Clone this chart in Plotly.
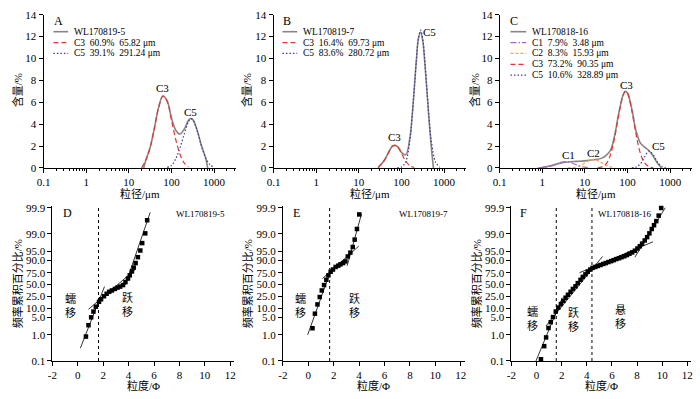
import numpy as np
import plotly.graph_objects as go

# ---------------- data: grain-size distributions (x in µm, y in %) ----------------
A_TOTAL_X = [22.4, 25.1, 31.6, 39.8, 50.1, 63.1, 79.4, 100, 125.9, 158.5, 199.5, 251.2, 281.8, 316.2, 398.1, 501.2, 631.0, 707.9]
A_TOTAL_Y = [0.0, 0.72, 1.87, 3.64, 5.55, 6.57, 6.12, 4.59, 3.45, 3.10, 3.55, 4.35, 4.52, 4.42, 3.48, 2.08, 0.94, 0.0]
A_C3_X = [19.95, 25.1, 31.6, 39.8, 50.1, 63.1, 79.4, 100, 125.9, 158.5, 199.5, 251.2]
A_C3_Y = [0.0, 0.72, 1.87, 3.64, 5.55, 6.57, 6.07, 4.36, 2.6, 1.25, 0.45, 0.1]
A_C5_X = [79.4, 100, 125.9, 158.5, 199.5, 251.2, 281.8, 316.2, 398.1, 501.2, 631.0, 794.3, 1000]
A_C5_Y = [0.05, 0.23, 0.85, 1.85, 3.10, 4.25, 4.5, 4.42, 3.48, 2.08, 0.94, 0.32, 0.08]

B_TOTAL_X = [28.2, 31.6, 39.8, 50.1, 63.1, 79.4, 100, 125.9, 158.5, 177.8, 199.5, 223.9, 251.2, 281.8, 316.2, 354.8, 398.1, 446.7, 501.2, 562.3]
B_TOTAL_Y = [0.0, 0.22, 0.71, 1.44, 2.03, 1.99, 1.42, 1.20, 2.83, 4.74, 7.25, 9.88, 11.88, 12.4, 11.6, 9.5, 6.9, 4.2, 1.9, 0.0]
B_C3_X = [28.2, 31.6, 39.8, 50.1, 63.1, 79.4, 100, 125.9, 158.5, 199.5]
B_C3_Y = [0.08, 0.24, 0.71, 1.44, 2.03, 1.98, 1.34, 0.63, 0.20, 0.05]
B_C5_X = [79.4, 100, 125.9, 158.5, 177.8, 199.5, 223.9, 251.2, 281.8, 316.2, 354.8, 398.1, 446.7, 501.2, 631.0, 794.3]
B_C5_Y = [0.01, 0.08, 0.57, 2.63, 4.63, 7.2, 9.86, 11.88, 12.6, 11.76, 9.66, 6.98, 4.45, 2.49, 0.53, 0.07]

C_TOTAL_X = [0.89, 1.0, 1.58, 2.51, 3.98, 6.31, 10.0, 15.85, 25.1, 31.6, 39.8, 50.1, 63.1, 79.4, 89.1, 100, 125.9, 158.5, 199.5, 251.2, 316.2, 398.1, 501.2, 631.0]
C_TOTAL_Y = [0.0, 0.05, 0.2, 0.42, 0.55, 0.6, 0.65, 0.75, 0.9, 1.15, 1.6, 3.0, 5.1, 6.7, 7.0, 6.85, 5.4, 3.4, 2.3, 1.9, 1.6, 1.1, 0.45, 0.0]
C_C1_X = [0.79, 1.0, 1.26, 1.58, 2.0, 2.51, 3.16, 3.98, 5.01, 6.31, 7.94, 10.0, 12.6]
C_C1_Y = [0.01, 0.03, 0.08, 0.17, 0.32, 0.47, 0.57, 0.56, 0.45, 0.29, 0.15, 0.07, 0.02]
C_C2_X = [3.98, 5.01, 6.31, 7.94, 10.0, 12.6, 15.85, 19.95, 25.1, 31.6, 39.8, 50.1]
C_C2_Y = [0.01, 0.03, 0.10, 0.24, 0.45, 0.66, 0.75, 0.67, 0.46, 0.25, 0.10, 0.03]
C_C3_X = [19.95, 25.1, 31.6, 39.8, 50.1, 63.1, 79.4, 89.1, 100, 125.9, 158.5, 199.5, 251.2, 316.2, 398.1]
C_C3_Y = [0.02, 0.10, 0.39, 1.21, 2.82, 5.0, 6.70, 7.0, 6.82, 5.25, 3.07, 1.36, 0.46, 0.12, 0.02]
C_C5_X = [125.9, 158.5, 199.5, 251.2, 316.2, 398.1, 501.2, 631.0, 794.3]
C_C5_Y = [0.01, 0.08, 0.37, 1.0, 1.55, 1.22, 0.56, 0.14, 0.02]

A_LEGEND = ["WL170819-5", "C3  60.9%  65.82 μm", "C5  39.1%  291.24 μm"]
B_LEGEND = ["WL170819-7", "C3  16.4%  69.73 μm", "C5  83.6%  280.72 μm"]
C_LEGEND = ["WL170818-16", "C1  7.9%  3.48 μm", "C2  8.3%  15.93 μm", "C3  73.2%  90.35 μm", "C5  10.6%  328.89 μm"]

# ---------------- data: cumulative probability curves (phi, cumulative %) ----------------
D_PHI = [0.64, 0.84, 1.05, 1.23, 1.42, 1.67, 1.83, 2.06, 2.27, 2.47, 2.68, 2.92, 3.13, 3.33, 3.56, 3.75, 3.95, 4.09, 4.26, 4.40, 4.55, 4.73, 4.92, 5.07, 5.31, 5.46]
D_PCT = [0.94, 3.2, 5.0, 8.3, 12.3, 18.1, 21.2, 24.7, 29.8, 34.0, 36.9, 40.2, 43.1, 45.2, 48.5, 54.8, 62.5, 69.4, 76.5, 81.1, 86.5, 91.7, 95.2, 96.9, 99.02, 99.47]
D_FIT_PHI = [[0.2, 2.1], [0.84, 4.53], [3.75, 5.70]]
D_FIT_PCT = [[0.54, 45.2], [9.6, 78.8], [49.4, 99.74]]
D_BOUNDS = [1.63]

E_PHI = [0.33, 0.52, 0.72, 0.90, 1.06, 1.24, 1.42, 1.58, 1.76, 1.94, 2.15, 2.36, 2.53, 2.74, 2.92, 3.11, 3.31, 3.50, 3.65, 3.83, 4.01]
E_PCT = [2.5, 7.1, 15.0, 23.8, 36.9, 48.5, 59.8, 69.4, 76.2, 78.8, 81.9, 83.4, 85.0, 86.5, 88.5, 92.1, 94.3, 96.0, 97.7, 99.17, 99.67]
E_FIT_PHI = [[-0.05, 1.84], [1.11, 3.97], [3.06, 4.19]]
E_FIT_PCT = [[1.0, 80.8], [62.5, 96.2], [83.4, 99.69]]
E_BOUNDS = [1.68]

F_PHI = [0.35, 0.61, 0.76, 0.95, 1.13, 1.31, 1.53, 1.73, 1.94, 2.13, 2.31, 2.50, 2.71, 2.89, 3.10, 3.28, 3.50, 3.68, 3.89, 4.07,
         4.28, 4.46, 4.68, 4.88, 5.09, 5.31, 5.51, 5.72, 5.94, 6.14, 6.35, 6.57, 6.77, 6.98, 7.20, 7.40, 7.61, 7.83, 8.03, 8.22,
         8.40, 8.61, 8.80, 8.98, 9.17, 9.35, 9.53, 9.72, 9.92]
F_PCT = [0.16, 0.61, 0.91, 2.56, 3.89, 5.17, 8.33, 11.2, 15.4, 19.2, 23.0, 27.7, 34.0, 40.2, 45.8, 52.7, 59.8, 66.0, 71.5, 76.2,
         78.8, 80.8, 81.9, 83.1, 84.2, 85.4, 86.5, 87.7, 88.8, 90.0, 90.6, 91.1, 91.7, 92.2, 92.9, 93.7, 94.4, 95.16, 95.67, 96.18,
         96.78, 97.5, 98.27, 99.02, 99.17, 99.3, 99.44, 99.63, 99.89]
F_FIT_PHI = [[-0.05, 2.05], [0.74, 5.25], [3.42, 9.27], [7.83, 10.25]]
F_FIT_PCT = [[0.1, 23.0], [3.0, 92.1], [75.0, 97.2], [91.7, 99.9]]
F_BOUNDS = [1.57, 4.41]

# probability-axis tick labels and their positions on the (non-linear) scale
PCT_TICKS = [0.1, 1.0, 5.0, 10.0, 25.0, 50.0, 75.0, 90.0, 95.0, 99.0, 99.9]
PCT_TICK_TEXT = ["0.1", "1.0", "5.0", "10.0", "25.0", "50.0", "75.0", "90.0", "95.0", "99.0", "99.9"]
PCT_SCALE = [0, 27, 45, 54, 67, 79, 91, 104, 113, 131, 158]

GS_TICKS = [0.1, 1, 10, 100, 1000]
GS_TICK_TEXT = ["0.1", "1", "10", "100", "1000"]
PHI_TICKS = [-2, 0, 2, 4, 6, 8, 10, 12]
PHI_TICK_TEXT = ["-2", "0", "2", "4", "6", "8", "10", "12"]


def to_scale(p):
    return np.interp(p, PCT_TICKS, PCT_SCALE)


W, H = 700, 399
FONT = "Liberation Serif, 'Noto Sans CJK SC', serif"
GRAY = "#8a8585"
RED = "#e8352c"
BLUE = "#3a3aa8"
PURPLE = "#b060c0"
ORANGE = "#f2a35e"


def X(px):
    return px / W


def Y(py):
    return 1 - py / H


fig = go.Figure()

top_dom = [Y(167), Y(9)]
bot_dom = [Y(366), Y(206)]
top_x = {"": (37, 232), "2": (270, 465), "3": (499, 694)}
bot_x = {"4": (46, 230), "5": (279.5, 463.5), "6": (511, 693)}

axis_common = dict(showline=True, linecolor="black", linewidth=1, showgrid=False, zeroline=False,
                   ticks="outside", ticklen=4, tickcolor="black", tickwidth=1,
                   tickfont=dict(family=FONT, size=11, color="black"))

layout = dict(width=W, height=H, margin=dict(l=0, r=0, t=0, b=0), autosize=False,
              plot_bgcolor="white", paper_bgcolor="white", showlegend=False)

for k, (x0, x1) in top_x.items():
    layout["xaxis" + k] = dict(axis_common, type="log", domain=[X(x0), X(x1)], range=[-1, 3.514],
                               tickmode="array", tickvals=GS_TICKS, ticktext=GS_TICK_TEXT,
                               anchor="y" + k,
                               minor=dict(ticks="outside", ticklen=2, tickcolor="black", dtick="D1", showgrid=False))
    layout["yaxis" + k] = dict(axis_common, domain=top_dom, range=[0, 14], tickmode="array",
                               tickvals=[0, 2, 4, 6, 8, 10, 12, 14], anchor="x" + k)
for k, (x0, x1) in bot_x.items():
    layout["xaxis" + k] = dict(axis_common, domain=[X(x0), X(x1)], range=[-2, 12.3], tickmode="array",
                               tickvals=PHI_TICKS, ticktext=PHI_TICK_TEXT, anchor="y" + k)
    layout["yaxis" + k] = dict(axis_common, domain=bot_dom, range=[0, 160], tickmode="array",
                               tickvals=PCT_SCALE, ticktext=PCT_TICK_TEXT, anchor="x" + k)
fig.update_layout(**layout)


def curve(k, xs, ys, color, dash, width):
    fig.add_trace(go.Scatter(x=xs, y=ys, mode="lines", xaxis="x" + k, yaxis="y" + k,
                             line=dict(color=color, dash=dash, width=width, shape="spline", smoothing=1),
                             hoverinfo="skip"))


DASH_RED = "5px,3px"
DASH_BLUE = "1.5px,2px"
DASH_PURPLE = "6px,2px,1.5px,2px"
DASH_ORANGE = "3px,2px"

curve("", A_TOTAL_X, A_TOTAL_Y, GRAY, "solid", 1.6)
curve("", A_C3_X, A_C3_Y, RED, DASH_RED, 1.2)
curve("", A_C5_X, A_C5_Y, BLUE, DASH_BLUE, 1.2)
curve("2", B_TOTAL_X, B_TOTAL_Y, GRAY, "solid", 1.6)
curve("2", B_C3_X, B_C3_Y, RED, DASH_RED, 1.2)
curve("2", B_C5_X, B_C5_Y, BLUE, DASH_BLUE, 1.2)
curve("3", C_TOTAL_X, C_TOTAL_Y, GRAY, "solid", 1.6)
curve("3", C_C1_X, C_C1_Y, PURPLE, DASH_PURPLE, 1.2)
curve("3", C_C2_X, C_C2_Y, ORANGE, DASH_ORANGE, 1.2)
curve("3", C_C3_X, C_C3_Y, RED, DASH_RED, 1.2)
curve("3", C_C5_X, C_C5_Y, BLUE, DASH_BLUE, 1.2)


def prob_panel(k, phi, pct, fit_phi, fit_pct, bounds):
    for b in bounds:
        fig.add_trace(go.Scatter(x=[b, b], y=[0, 160], mode="lines", xaxis="x" + k, yaxis="y" + k,
                                 line=dict(color="black", dash="3px,3px", width=1), hoverinfo="skip"))
    for fx, fp in zip(fit_phi, fit_pct):
        fig.add_trace(go.Scatter(x=fx, y=to_scale(fp), mode="lines", xaxis="x" + k, yaxis="y" + k,
                                 line=dict(color="black", width=0.8), hoverinfo="skip"))
    fig.add_trace(go.Scatter(x=phi, y=to_scale(pct), mode="markers", xaxis="x" + k, yaxis="y" + k,
                             marker=dict(symbol="square", size=4.5, color="black", line=dict(width=0)),
                             cliponaxis=False, hoverinfo="skip"))


prob_panel("4", D_PHI, D_PCT, D_FIT_PHI, D_FIT_PCT, D_BOUNDS)
prob_panel("5", E_PHI, E_PCT, E_FIT_PHI, E_FIT_PCT, E_BOUNDS)
prob_panel("6", F_PHI, F_PCT, F_FIT_PHI, F_FIT_PCT, F_BOUNDS)

ann = []
shapes = []


def text_px(px, py, s, size=11, xanchor="center", angle=0):
    ann.append(dict(x=X(px), y=Y(py), xref="paper", yref="paper", text=s, showarrow=False,
                    xanchor=xanchor, yanchor="middle", textangle=angle,
                    font=dict(family=FONT, size=size, color="black")))


def text_ax(k, x, y, s, size=11):
    ann.append(dict(x=x, y=y, xref="x" + k, yref="y" + k, text=s, showarrow=False,
                    xanchor="center", yanchor="middle",
                    font=dict(family=FONT, size=size, color="black")))


# panel letters
for px, py, s in [(46, 15, "A"), (278, 15, "B"), (508, 15, "C"), (55, 213, "D"), (288, 213, "E"), (518, 213, "F")]:
    text_px(px, py, s, size=12, xanchor="left")

# legends in top panels
styles_A = [(GRAY, "solid", 1.6), (RED, DASH_RED, 1.2), (BLUE, DASH_BLUE, 1.2)]
styles_C = [(GRAY, "solid", 1.6), (PURPLE, DASH_PURPLE, 1.2), (ORANGE, DASH_ORANGE, 1.2), (RED, DASH_RED, 1.2), (BLUE, DASH_BLUE, 1.2)]
for (lx0, lx1, tx), labels, styles in [((47, 62, 66), A_LEGEND, styles_A), ((279, 294, 298), B_LEGEND, styles_A),
                                        ((510, 526, 530), C_LEGEND, styles_C)]:
    for i, (lab, (c, d, w)) in enumerate(zip(labels, styles)):
        py = 26.5 + i * 11.2
        shapes.append(dict(type="line", xref="paper", yref="paper", x0=X(lx0), x1=X(lx1), y0=Y(py), y1=Y(py),
                           line=dict(color=c, dash=d, width=w)))
        text_px(tx, py, lab.replace(" ", "\u00a0"), size=9.5, xanchor="left")

# component labels on curves (x in log10 µm)
text_ax("", 1.79, 7.35, "C3")
text_ax("", 2.45, 5.15, "C5")
text_ax("2", 1.84, 2.8, "C3")
text_ax("2", 2.66, 12.4, "C5")
text_ax("3", 0.62, 1.15, "C1")
text_ax("3", 1.2, 1.35, "C2")
text_ax("3", 1.97, 7.6, "C3")
text_ax("3", 2.72, 2.0, "C5")

# transport-mode labels (phi, scale position)
text_ax("4", -0.58, 57, "蠕<br>移", size=11)
text_ax("4", 3.93, 58, "跃<br>移", size=11)
text_ax("5", -0.58, 57, "蠕<br>移", size=11)
text_ax("5", 3.65, 57, "跃<br>移", size=11)
text_ax("6", -0.36, 43, "蠕<br>移", size=11)
text_ax("6", 2.97, 43, "跃<br>移", size=11)
text_ax("6", 6.69, 45, "悬<br>移", size=11)

# sample names
text_px(196, 214, "WL170819-5", size=9)
text_px(422, 214, "WL170819-7", size=9)
text_px(626, 214, "WL170818-16", size=9)

# axis titles
for k, (x0, x1) in top_x.items():
    text_px((x0 + x1) / 2, 193, "粒径/μm", size=11)
for k, (x0, x1) in bot_x.items():
    text_px((x0 + x1) / 2, 391, "粒度/Φ", size=11)
for px in (11, 242, 473):
    text_px(px, 87, "含量/%", size=11, angle=-90)
for px in (11, 244, 476):
    text_px(px, 286, "频率累积百分比/%", size=11, angle=-90)

fig.update_layout(annotations=ann, shapes=shapes)
fig.write_html("out.html", config={"displayModeBar": False},
               post_script="document.body.style.margin='0px';document.body.style.padding='0px';"
                           "document.body.style.overflow='hidden';")
